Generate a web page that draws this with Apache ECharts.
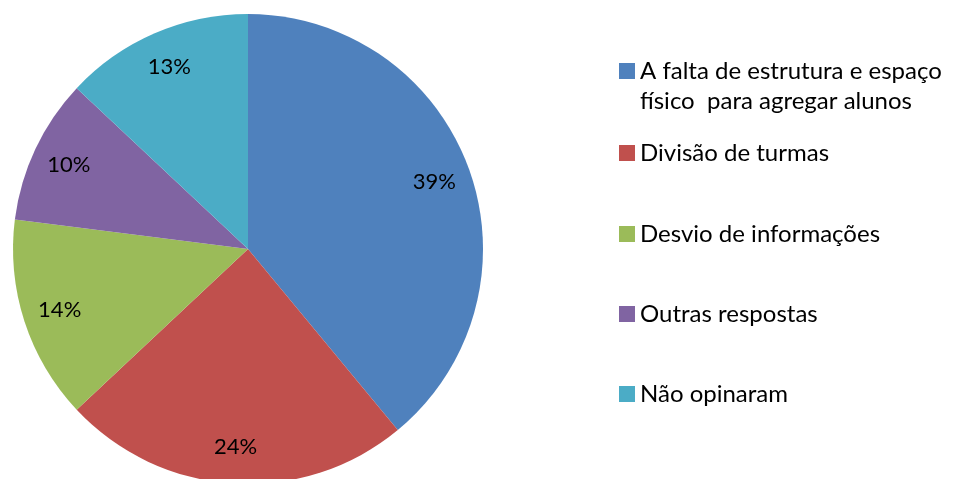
<!DOCTYPE html>
<html>
<head>
<meta charset="utf-8">
<script src="https://cdn.jsdelivr.net/npm/echarts@6/dist/echarts.min.js"></script>
<style>
html,body{margin:0;padding:0;background:#fff;}
#main{width:955px;height:479px;}
</style>
</head>
<body>
<div id="main"></div>
<script>
var categories=['A falta de estrutura e espaço\nfísico  para agregar alunos','Divisão de turmas','Desvio de informações','Outras respostas','Não opinaram'];
var values=[39,24,14,10,13];
var colors=['#4F81BD','#C0504D','#9BBB59','#8064A2','#4BACC6'];
var legendCenters=[71,153,234,314,394];

var myChart=echarts.init(document.getElementById('main'));
var pieData=[];
for(var i=0;i<categories.length;i++){
    pieData.push({name:categories[i],value:values[i],itemStyle:{color:colors[i]}});
}

// one legend per item so the spacing follows the picture
var legends=[];
for(var j=0;j<categories.length;j++){
    legends.push({
        data:[categories[j]],
        left:619,
        top: j==0 ? legendCenters[j]-45 : legendCenters[j]-15,
        padding:0,
        itemWidth:16,
        itemHeight:16,
        itemGap:6,
        icon:'rect',
        selectedMode:false,
        // blank first line keeps the square next to the first text line
        formatter: j==0 ? function(name){return ' \n'+name;} : '{name}',
        textStyle:{
            fontFamily:'Lato',
            fontSize:24,
            color:'#000',
            lineHeight:30
        }
    });
}

var option={
    animation:false,
    color:colors,
    legend:legends,
    series:[
        {
            type:'pie',
            center:[248,249],
            radius:[0,235],
            startAngle:90,
            clockwise:true,
            data:pieData,
            label:{show:false},
            labelLine:{show:false},
            emphasis:{disabled:true}
        },
        {
            // transparent ring only for the percent labels
            type:'pie',
            center:[248,249],
            radius:[155,235],
            startAngle:90,
            clockwise:true,
            silent:true,
            data:pieData.map(function(d){return {name:d.name,value:d.value,itemStyle:{color:'rgba(0,0,0,0)'}};}),
            label:{
                show:true,
                position:'inside',
                fontFamily:'Lato',
                fontSize:22,
                color:'#000',
                formatter:function(params){
                    return params.value+'%';
                }
            },
            labelLine:{show:false},
            emphasis:{disabled:true}
        }
    ]
};
myChart.setOption(option);
</script>
</body>
</html>
